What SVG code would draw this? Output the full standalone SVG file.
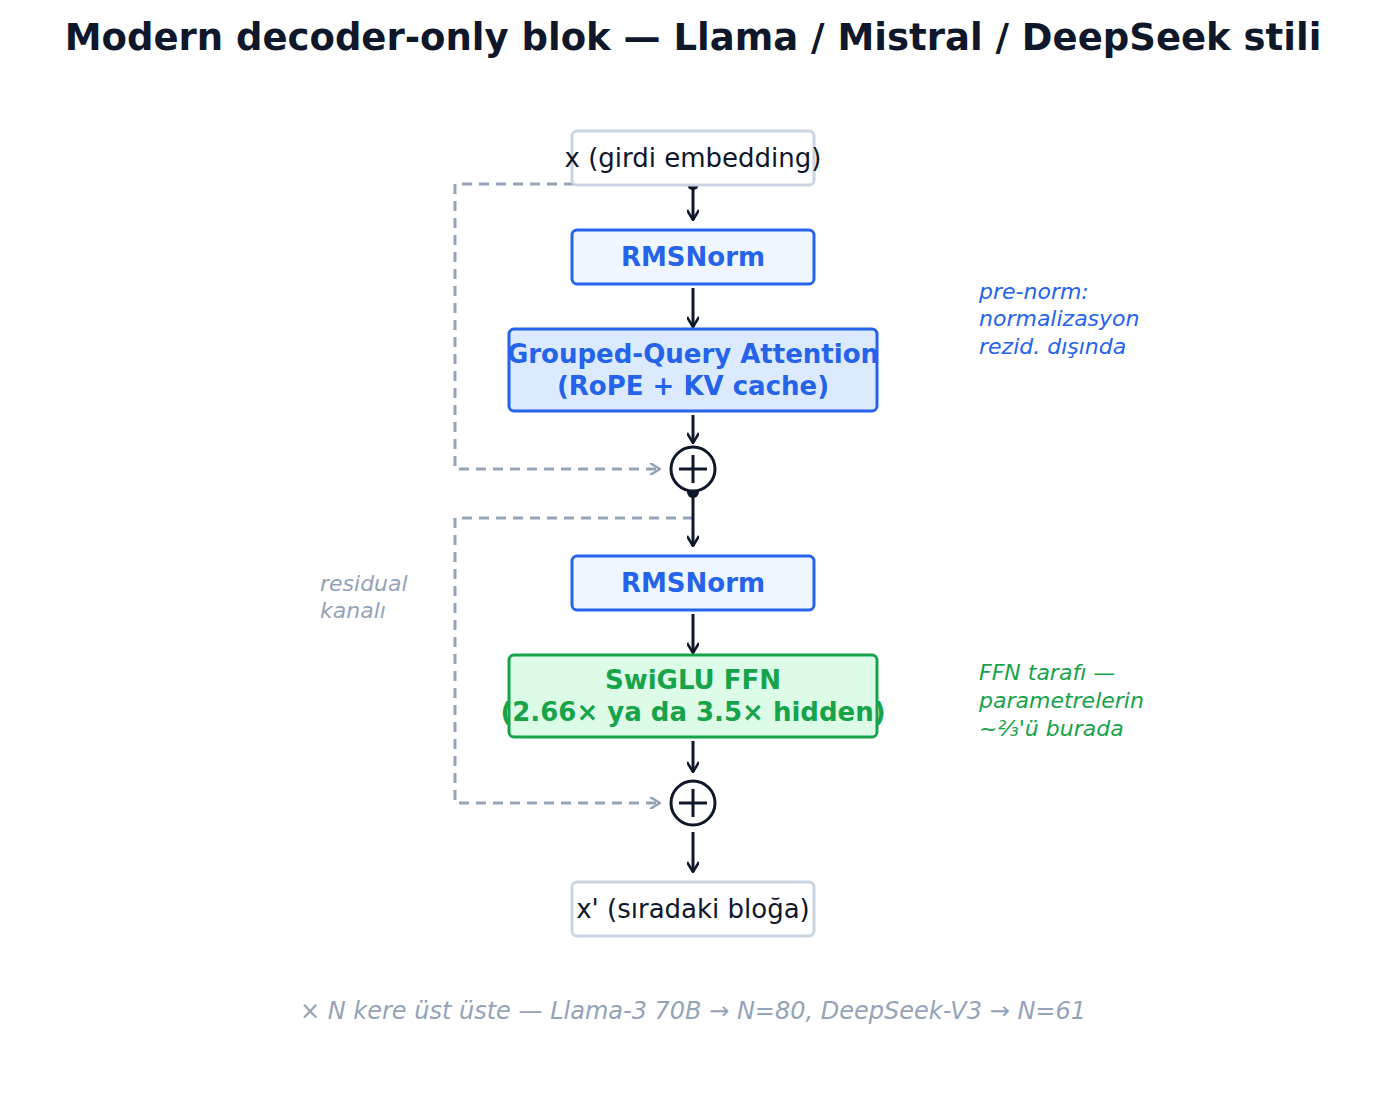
<svg xmlns="http://www.w3.org/2000/svg" width="1386" height="1094" viewBox="0 0 1386 1094">
<style>
text{font-family:"DejaVu Sans",sans-serif}
.t{font-size:26px;fill:#0f172a;text-anchor:middle}
.b{font-size:26px;font-weight:bold;text-anchor:middle}
.blue{fill:#2563eb}.green{fill:#16a34a}
.i{font-size:22px;font-style:italic}
.ar{stroke:#0f172a;stroke-width:3;fill:none;marker-end:url(#m)}
.res{stroke:#94a3b8;stroke-width:3;fill:none;stroke-dasharray:10 7}
</style>
<defs>
<marker id="m" viewBox="0 0 12 12" refX="11" refY="6" markerWidth="12" markerHeight="12" markerUnits="userSpaceOnUse" orient="auto"><path d="M1 0 L11 6 L1 12" fill="none" stroke="#0f172a" stroke-width="2.5"/></marker>
<marker id="mg" viewBox="0 0 12 12" refX="11" refY="6" markerWidth="12" markerHeight="12" markerUnits="userSpaceOnUse" orient="auto"><path d="M1 0 L11 6 L1 12" fill="none" stroke="#94a3b8" stroke-width="2.5"/></marker>
</defs>
<rect width="1386" height="1094" fill="#fff"/>
<text x="693" y="50" text-anchor="middle" style="font-size:37px;font-weight:bold;fill:#0f172a">Modern decoder-only blok  —  Llama / Mistral / DeepSeek stili</text>
<g id="connectors">
<path class="res" d="M693 184 H455 V469 H660" marker-end="url(#mg)"/>
<path class="res" d="M693 518 H455 V803 H660" marker-end="url(#mg)"/>
<circle cx="693" cy="184" r="6" fill="#0f172a"/>
<circle cx="693" cy="492" r="6" fill="#0f172a"/>
<line class="ar" x1="693" y1="186" x2="693" y2="220"/>
<line class="ar" x1="693" y1="288" x2="693" y2="327"/>
<line class="ar" x1="693" y1="415" x2="693" y2="443"/>
<line class="ar" x1="693" y1="492" x2="693" y2="546"/>
<line class="ar" x1="693" y1="614" x2="693" y2="653"/>
<line class="ar" x1="693" y1="741" x2="693" y2="772"/>
<line class="ar" x1="693" y1="832" x2="693" y2="872"/>
</g>
<g id="input"><rect x="572" y="131" width="242" height="54" rx="5" fill="#fff" stroke="#cbd5e1" stroke-width="3"/><text class="t" x="693" y="167">x  (girdi embedding)</text></g>
<g id="rms1"><rect x="572" y="230" width="242" height="54" rx="5" fill="#eff6ff" stroke="#2563eb" stroke-width="3"/><text class="b blue" x="693" y="266">RMSNorm</text></g>
<g id="gqa"><rect x="509" y="329" width="368" height="82" rx="5" fill="#dbeafe" stroke="#2563eb" stroke-width="3"/><text class="b blue" x="693" y="363">Grouped-Query Attention</text><text class="b blue" x="693" y="395">(RoPE + KV cache)</text></g>
<g id="add1"><circle cx="693" cy="469" r="22" fill="#fff" stroke="#0f172a" stroke-width="3"/><path d="M679 469 H707 M693 455 V483" stroke="#0f172a" stroke-width="3"/></g>
<g id="rms2"><rect x="572" y="556" width="242" height="54" rx="5" fill="#eff6ff" stroke="#2563eb" stroke-width="3"/><text class="b blue" x="693" y="592">RMSNorm</text></g>
<g id="ffn"><rect x="509" y="655" width="368" height="82" rx="5" fill="#dcfce7" stroke="#16a34a" stroke-width="3"/><text class="b green" x="693" y="689">SwiGLU FFN</text><text class="b green" x="693" y="721">(2.66×  ya da 3.5× hidden)</text></g>
<g id="add2"><circle cx="693" cy="803" r="22" fill="#fff" stroke="#0f172a" stroke-width="3"/><path d="M679 803 H707 M693 789 V817" stroke="#0f172a" stroke-width="3"/></g>
<g id="output"><rect x="572" y="882" width="242" height="54" rx="5" fill="#fff" stroke="#cbd5e1" stroke-width="3"/><text class="t" x="693" y="918">x'  (sıradaki bloğa)</text></g>
<g id="notes">
<text class="i blue" x="979" y="299">pre-norm:</text><text class="i blue" x="979" y="326">normalizasyon</text><text class="i blue" x="979" y="354">rezid. dışında</text>
<text class="i green" x="979" y="680">FFN tarafı —</text><text class="i green" x="979" y="708">parametrelerin</text><text class="i green" x="979" y="736">~⅔'ü burada</text>
<text class="i" fill="#94a3b8" x="320" y="591">residual</text><text class="i" fill="#94a3b8" x="320" y="618">kanalı</text>
<text x="693" y="1019" text-anchor="middle" style="font-size:24px;font-style:italic;fill:#94a3b8">× N kere üst üste — Llama-3 70B → N=80,  DeepSeek-V3 → N=61</text>
</g>
</svg>
